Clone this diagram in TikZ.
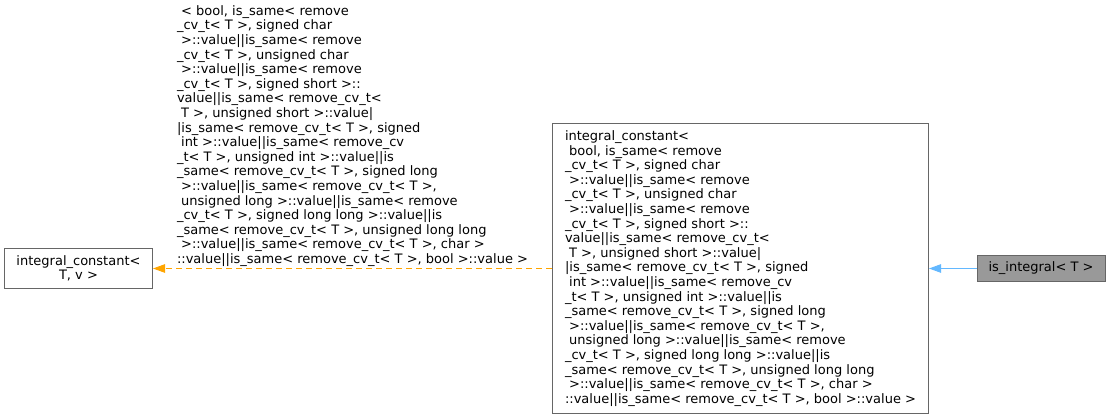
\documentclass[tikz,border=0pt]{standalone}
\usepackage{fontspec}
\setmainfont{DejaVu Sans}
\usetikzlibrary{arrows.meta}

\definecolor{boxline}{HTML}{666666}
\definecolor{boxgray}{HTML}{999999}
\definecolor{tmplorange}{HTML}{FFA500}
\definecolor{pubblue}{HTML}{63B8FF}

\newcommand{\pad}{\hspace*{0.318em}}
% template arguments shared by the edge label and the instance box
\newcommand{\condargs}{%
\_cv\_t< T >, signed char\\
\pad>::value||is\_same< remove\\
\_cv\_t< T >, unsigned char\\
\pad>::value||is\_same< remove\\
\_cv\_t< T >, signed short >::\\
value||is\_same< remove\_cv\_t<\\
\pad T >, unsigned short >::value|\\
|is\_same< remove\_cv\_t< T >, signed\\
\pad int >::value||is\_same< remove\_cv\\
\_t< T >, unsigned int >::value||is\\
\_same< remove\_cv\_t< T >, signed long\\
\pad>::value||is\_same< remove\_cv\_t< T >,\\
\pad unsigned long >::value||is\_same< remove\\
\_cv\_t< T >, signed long long >::value||is\\
\_same< remove\_cv\_t< T >, unsigned long long\\
\pad>::value||is\_same< remove\_cv\_t< T >, char >\\
::value||is\_same< remove\_cv\_t< T >, bool >::value >}

\begin{document}
\begin{tikzpicture}[x=1pt, y=-1pt,
    txt/.style={font=\fontsize{13pt}{14.6pt}\selectfont},
    cls/.style={txt, shape=rectangle, draw=boxline, line width=1pt, inner sep=0pt},
    pubedge/.style={color=pubblue, line width=1pt, -{Triangle[length=12pt,width=8.5pt]}},
    tmpledge/.style={color=tmplorange, line width=1pt, dash pattern=on 6pt off 4pt,
        -{Triangle[length=12pt,width=8.5pt]}}]
    \useasboundingbox (0,0) rectangle (1111,419);

    \node[cls, fill=boxgray, minimum width=128pt, minimum height=26pt] (1) at (1041,268.5) {is\_integral< T >};
    \node[cls, align=left, minimum width=376pt, minimum height=289pt] (2) at (740.5,268.5)
        {integral\_constant<\\ \pad bool, is\_same< remove\\ \condargs};
    \node[cls, align=center, minimum width=148pt, minimum height=40pt] (3) at (78.5,268.5)
        {integral\_constant<\\ T, v >};

    \draw[pubedge] (1) edge (2);
    \draw[tmpledge] (2) edge node[txt, above, align=left, inner sep=1.5pt, text=black]
        {\pad< bool, is\_same< remove\\ \condargs} (3);
\end{tikzpicture}
\end{document}
